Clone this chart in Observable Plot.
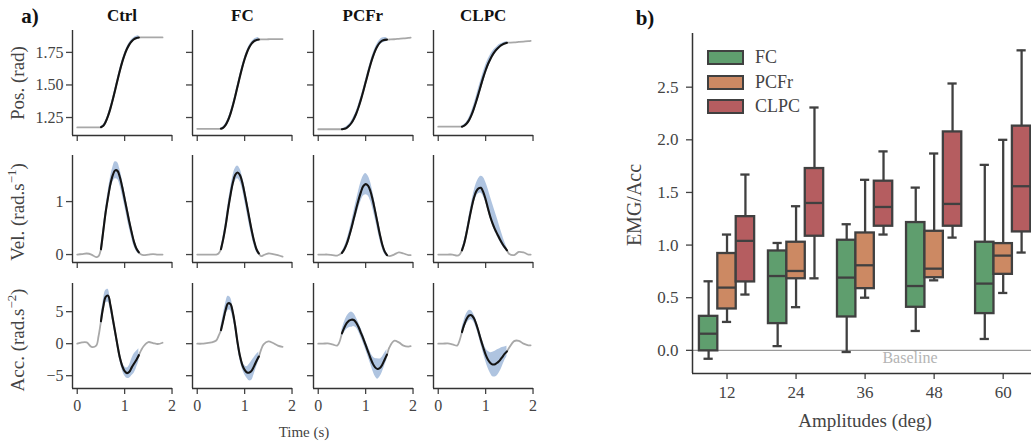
<!DOCTYPE html>
<html><head><meta charset="utf-8">
<script src="https://cdn.jsdelivr.net/npm/d3@7"></script>
<script src="https://cdn.jsdelivr.net/npm/@observablehq/plot@0.6"></script>
<style>
body{margin:0;background:#fff;width:1031px;height:442px;overflow:hidden;font-family:"Liberation Serif",serif;color:#444;}
#root{position:relative;width:1031px;height:442px;overflow:hidden;}
.lbl{position:absolute;white-space:nowrap;transform:translate(-50%,-50%);line-height:1;}
.rot{transform:translate(-50%,-50%) rotate(-90deg);}
.bold{font-weight:bold;color:#111;}
sup{font-size:0.68em;vertical-align:0.55em;line-height:0;}
.lg{position:absolute;width:33px;height:11px;border:2px solid #404040;}
</style></head><body><div id="root"></div><script>
// ---------------- Panel a data ----------------
const conditions = ["Ctrl", "FC", "PCFr", "CLPC"];
const ctrlTime = [0,0.1,0.2,0.3,0.4,0.45,0.5,0.55,0.6,0.65,0.7,0.75,0.8,0.85,0.9,0.95,1,1.05,1.1,1.15,1.2,1.25,1.3,1.35,1.4,1.5,1.6,1.7,1.8];
const fcTime   = [0,0.1,0.2,0.3,0.4,0.45,0.5,0.55,0.6,0.65,0.7,0.75,0.8,0.85,0.9,0.95,1,1.05,1.1,1.15,1.2,1.25,1.3,1.35,1.4,1.5,1.6,1.7,1.8];
const pcfrTime = [0,0.1,0.2,0.3,0.4,0.45,0.5,0.55,0.6,0.65,0.7,0.75,0.8,0.85,0.9,0.95,1,1.05,1.1,1.15,1.2,1.25,1.3,1.35,1.4,1.45,1.5,1.6,1.7,1.8,1.9,1.95];
const clpcTime = [0,0.1,0.2,0.3,0.4,0.45,0.5,0.55,0.6,0.65,0.7,0.75,0.8,0.85,0.9,0.95,1,1.05,1.1,1.15,1.2,1.25,1.3,1.35,1.4,1.45,1.5,1.6,1.7,1.8,1.9,1.95];
const ctrlMove = [0.5, 1.3];
const fcMove = [0.5, 1.3];
const pcfrMove = [0.5, 1.45];
const clpcMove = [0.5, 1.45];

const ctrlPos = [1.174,1.174,1.174,1.174,1.174,1.174,1.176,1.187,1.217,1.262,1.320,1.388,1.462,1.538,1.611,1.677,1.733,1.778,1.812,1.836,1.852,1.860,1.864,1.865,1.865,1.865,1.865,1.865,1.865];
const ctrlVel = [0,0.01,0.02,0,-0.05,-0.03,0.1,0.45,0.8,1.08,1.33,1.5,1.59,1.58,1.46,1.27,1.05,0.83,0.61,0.41,0.23,0.11,0.04,0,-0.01,0,0.01,0,0];
const ctrlAcc = [0,0.2,0.2,-0.5,-0.3,1.2,3.5,5.8,7.3,7.5,6.0,3.9,1.8,-0.3,-2.2,-3.5,-4.3,-4.6,-4.4,-3.7,-3.1,-2.5,-1.8,-1.0,-0.4,0.25,0.1,-0.05,0.15];
const ctrlPosSd = [0.005,0.007,0.01,0.012,0.014,0.015,0.015,0.015,0.015,0.014,0.013,0.012,0.012,0.012,0.013,0.014,0.015];
const ctrlVelSd = [0.03,0.06,0.08,0.1,0.12,0.14,0.16,0.16,0.15,0.14,0.13,0.13,0.12,0.1,0.08,0.05,0.03];
const ctrlAccSd = [0.8,0.9,1.0,1.0,0.8,0.6,0.5,0.5,0.5,0.6,0.7,0.8,1.0,1.3,1.5,1.3,1.0];

const fcPos = [1.163,1.163,1.163,1.163,1.163,1.163,1.164,1.173,1.194,1.229,1.278,1.340,1.411,1.488,1.564,1.636,1.699,1.751,1.791,1.819,1.837,1.846,1.849,1.85,1.85,1.851,1.852,1.852,1.852];
const fcVel = [0,0,0,0,0,0.02,0.1,0.3,0.55,0.85,1.12,1.35,1.5,1.55,1.5,1.36,1.15,0.92,0.68,0.45,0.25,0.1,0.02,-0.03,-0.01,0.02,0.01,-0.01,-0.04];
const fcAcc = [0,0,0.1,0.2,0.5,1.2,2.1,3.7,5.3,6.3,6.2,4.9,2.8,0.2,-1.9,-3.3,-4.1,-4.5,-4.5,-4.2,-3.5,-2.7,-2.0,-0.9,-0.1,0.35,0.1,-0.3,-0.5];
const fcPosSd = [0.005,0.007,0.01,0.012,0.014,0.015,0.015,0.015,0.015,0.015,0.014,0.013,0.013,0.013,0.014,0.015,0.015];
const fcVelSd = [0.03,0.06,0.08,0.1,0.11,0.12,0.12,0.12,0.12,0.12,0.13,0.13,0.12,0.1,0.08,0.05,0.03];
const fcAccSd = [0.5,0.8,1.0,1.1,1.0,0.8,0.6,0.6,0.6,0.6,0.7,0.9,1.3,1.5,1.3,1.0,0.7];

const pcfrPos = [1.16,1.16,1.16,1.16,1.16,1.16,1.16,1.163,1.171,1.186,1.208,1.239,1.279,1.329,1.387,1.451,1.52,1.589,1.655,1.713,1.762,1.799,1.825,1.84,1.846,1.848,1.849,1.851,1.854,1.857,1.861,1.863];
const pcfrVel = [0,0,0,-0.01,-0.02,0,0.03,0.1,0.2,0.34,0.5,0.68,0.86,1.03,1.18,1.29,1.33,1.30,1.2,1.03,0.82,0.6,0.38,0.19,0.06,-0.01,-0.03,0,0.04,0.02,-0.01,-0.01];
const pcfrAcc = [0,0,0.05,-0.1,-0.3,0.3,1.6,2.5,3.2,3.6,3.75,3.7,3.3,2.6,1.7,0.8,-0.2,-1.2,-2.2,-3.1,-3.7,-3.95,-3.8,-3.3,-2.5,-1.7,-0.6,0.45,0.2,-0.3,-0.45,-0.4];
const pcfrPosSd = [0.005,0.007,0.01,0.012,0.014,0.016,0.018,0.02,0.02,0.02,0.02,0.02,0.02,0.02,0.02,0.02,0.02,0.02,0.018,0.015];
const pcfrVelSd = [0.02,0.04,0.06,0.08,0.1,0.12,0.14,0.16,0.18,0.19,0.2,0.19,0.18,0.16,0.14,0.12,0.1,0.07,0.05,0.03];
const pcfrAccSd = [0.5,0.8,1.0,1.1,1.2,1.0,0.8,0.7,0.7,0.7,0.7,0.8,0.9,1.1,1.4,1.6,1.4,1.2,1.0,0.8];

const clpcPos = [1.18,1.18,1.18,1.18,1.18,1.18,1.18,1.188,1.204,1.230,1.268,1.317,1.373,1.434,1.497,1.558,1.613,1.661,1.700,1.733,1.759,1.780,1.797,1.809,1.818,1.824,1.825,1.827,1.830,1.833,1.836,1.838];
const clpcVel = [0,0,0,0,-0.02,0,0.08,0.22,0.42,0.65,0.87,1.06,1.19,1.25,1.26,1.18,1.04,0.87,0.71,0.58,0.47,0.38,0.29,0.21,0.14,0.08,0.01,-0.01,0.05,0.04,0,0];
const clpcAcc = [0,0,0.05,-0.1,-0.3,0.5,1.8,3.0,3.9,4.4,4.45,4.0,3.1,1.9,0.6,-0.6,-1.7,-2.5,-3.0,-3.25,-3.2,-2.95,-2.6,-2.1,-1.6,-1.2,-0.6,0.4,0.45,0,-0.25,-0.25];
const clpcPosSd = [0.005,0.008,0.012,0.018,0.025,0.03,0.035,0.04,0.04,0.04,0.038,0.035,0.03,0.025,0.02,0.018,0.015,0.012,0.01,0.01];
const clpcVelSdUp = [0.03,0.04,0.05,0.07,0.09,0.11,0.14,0.18,0.22,0.28,0.33,0.37,0.38,0.37,0.34,0.29,0.23,0.17,0.1,0.05];
const clpcVelSdLo = [0.03,0.04,0.05,0.07,0.08,0.1,0.1,0.1,0.1,0.08,0.05,0.04,0.04,0.04,0.04,0.04,0.04,0.04,0.03,0.03];
const clpcAccSd = [0.5,0.7,0.8,0.8,0.7,0.6,0.6,0.6,0.7,0.8,1.0,1.3,1.6,1.9,2.0,2.0,1.8,1.5,1.1,0.8];

const rowLabels = ["Pos. (rad)", "Vel. (rad.s<sup>−1</sup>)", "Acc. (rad.s<sup>−2</sup>)"];
const posTicks = [1.25, 1.5, 1.75];
const velTicks = [0, 1];
const accTicks = [-5, 0, 5];
const timeTicks = [0, 1, 2];

// ---------------- Panel b data ----------------
const amplitudes = [12, 24, 36, 48, 60];
const hues = ["FC", "PCFr", "CLPC"];
const hueColors = ["#5f9e6e", "#cc8963", "#b55d60"];
const fcLo  = [-0.08, 0.04, -0.016, 0.184, 0.108];
const fcQ1  = [-0.005, 0.254, 0.317, 0.409, 0.349];
const fcMed = [0.158, 0.706, 0.691, 0.611, 0.634];
const fcQ3  = [0.323, 0.944, 1.046, 1.214, 1.027];
const fcHi  = [0.656, 1.02, 1.198, 1.546, 1.762];
const pcfrLo  = [0.27, 0.41, 0.50, 0.665, 0.545];
const pcfrQ1  = [0.393, 0.68, 0.586, 0.69, 0.722];
const pcfrMed = [0.596, 0.754, 0.808, 0.776, 0.90];
const pcfrQ3  = [0.92, 1.027, 1.115, 1.131, 1.014];
const pcfrHi  = [1.10, 1.369, 1.62, 1.87, 2.0];
const clpcLo  = [0.53, 0.684, 1.10, 1.071, 0.929];
const clpcQ1  = [0.65, 1.084, 1.179, 1.179, 1.125];
const clpcMed = [1.04, 1.40, 1.362, 1.391, 1.559];
const clpcQ3  = [1.27, 1.727, 1.607, 2.075, 2.13];
const clpcHi  = [1.67, 2.307, 1.89, 2.535, 2.85];
const emgTicks = [0, 0.5, 1, 1.5, 2, 2.5];
const baselineNote = [{x: 2.65, y: -0.075, text: "Baseline"}];

// ---------------- Build ----------------
const root = document.getElementById("root");
const minus = d => (d < 0 ? "−" + Math.abs(d) : String(d));
const series = {
  Ctrl: {t: ctrlTime, move: ctrlMove, pos: [ctrlPos, ctrlPosSd], vel: [ctrlVel, ctrlVelSd], acc: [ctrlAcc, ctrlAccSd]},
  FC:   {t: fcTime, move: fcMove, pos: [fcPos, fcPosSd], vel: [fcVel, fcVelSd], acc: [fcAcc, fcAccSd]},
  PCFr: {t: pcfrTime, move: pcfrMove, pos: [pcfrPos, pcfrPosSd], vel: [pcfrVel, pcfrVelSd], acc: [pcfrAcc, pcfrAccSd]},
  CLPC: {t: clpcTime, move: clpcMove, pos: [clpcPos, clpcPosSd], vel: [clpcVel, clpcVelSdUp, clpcVelSdLo], acc: [clpcAcc, clpcAccSd]}
};
const rows = [
  {key: "pos", domain: [1.112, 1.918], ticks: posTicks, fmt: d => d.toFixed(2), top: 30, h: 105},
  {key: "vel", domain: [-0.15, 1.87], ticks: velTicks, fmt: minus, top: 155, h: 107},
  {key: "acc", domain: [-7.0, 9.4], ticks: accTicks, fmt: minus, top: 283, h: 105}
];
const xDomain = [-0.1, 2.01];
const ML = 40, MR = 4, MT = 4, MB = 30;
const colLeft = c => 72 + c * 120.4;

function place(el, left, top) {
  el.style.position = "absolute";
  el.style.left = left + "px";
  el.style.top = top + "px";
  root.appendChild(el);
}

rows.forEach((row, r) => {
  conditions.forEach((cond, c) => {
    const s = series[cond];
    const [vals, up, lo] = s[row.key];
    const all = s.t.map((t, i) => ({t, v: vals[i]}));
    const inMove = all.filter(d => d.t >= s.move[0] - 1e-9 && d.t <= s.move[1] + 1e-9);
    const band = inMove.map((d, i) => ({t: d.t, lo: d.v - (lo || up)[i], hi: d.v + up[i]}));
    const svg = Plot.plot({
      width: 100 + ML + MR, height: row.h + MT + MB,
      marginLeft: ML, marginRight: MR, marginTop: MT, marginBottom: MB,
      x: {domain: xDomain, label: null},
      y: {domain: row.domain, label: null},
      style: {fontFamily: "Liberation Serif", fontSize: "16px", color: "#444", background: "transparent", overflow: "visible"},
      marks: [
        Plot.line(all, {x: "t", y: "v", stroke: "#a8a8a8", strokeWidth: 1.8, curve: "catmull-rom"}),
        Plot.areaY(band, {x: "t", y1: "lo", y2: "hi", fill: "#afc4e0", curve: "catmull-rom"}),
        Plot.line(inMove, {x: "t", y: "v", stroke: "#141414", strokeWidth: 2.1, curve: "catmull-rom"}),
        Plot.axisY({ticks: row.ticks, tickSize: 6, tickPadding: 3, strokeWidth: 1.3, label: null,
          tickFormat: c === 0 ? row.fmt : () => ""}),
        Plot.axisX({ticks: timeTicks, tickSize: 6, tickPadding: 5, strokeWidth: 1.3, label: null,
          tickFormat: r === 2 ? d => String(d) : () => ""}),
        Plot.ruleX([xDomain[0]], {stroke: "#333", strokeWidth: 1.4}),
        Plot.ruleY([row.domain[0]], {stroke: "#333", strokeWidth: 1.4})
      ]
    });
    place(svg, colLeft(c) - ML, row.top - MT);
  });
});

function addLabel(html, x, y, cls, size) {
  const d = document.createElement("div");
  d.className = "lbl " + (cls || "");
  d.innerHTML = html;
  d.style.left = x + "px";
  d.style.top = y + "px";
  d.style.fontSize = size + "px";
  root.appendChild(d);
  return d;
}
addLabel("a)", 30, 16, "bold", 21);
conditions.forEach((cond, c) => addLabel(cond, colLeft(c) + 50, 15, "bold", 17));
[83, 212, 340].forEach((y, r) => addLabel(rowLabels[r], 17, y, "rot", 19));
addLabel("Time (s)", 304, 432, "", 15);

// ---------------- Panel b ----------------
const stats = {
  FC: [fcLo, fcQ1, fcMed, fcQ3, fcHi],
  PCFr: [pcfrLo, pcfrQ1, pcfrMed, pcfrQ3, pcfrHi],
  CLPC: [clpcLo, clpcQ1, clpcMed, clpcQ3, clpcHi]
};
const hueW = 0.8 / hues.length;
const boxes = [];
hues.forEach((h, j) => amplitudes.forEach((a, i) => {
  const [lo, q1, med, q3, hi] = stats[h].map(arr => arr[i]);
  boxes.push({hue: h, c: i + (j - 1) * hueW, lo, q1, med, q3, hi});
}));
const bx = [-0.5, 4.41], by = [-0.22, 3.01];
const edge = "#404040", ew = 2.3;
const half = hueW / 2, cap = hueW / 4;
const pb = Plot.plot({
  width: 411, height: 442, marginLeft: 72, marginRight: 0, marginTop: 33, marginBottom: 69,
  x: {domain: bx, label: null},
  y: {domain: by, label: null},
  color: {domain: hues, range: hueColors},
  style: {fontFamily: "Liberation Serif", fontSize: "17px", color: "#444", background: "transparent", overflow: "visible"},
  marks: [
    Plot.ruleY([0], {stroke: "#9a9a9a", strokeWidth: 1.3}),
    Plot.text(baselineNote, {x: "x", y: "y", text: "text", fill: "#b4b4b4", fontSize: 16}),
    Plot.ruleX(boxes, {x: "c", y1: "q3", y2: "hi", stroke: edge, strokeWidth: ew}),
    Plot.ruleX(boxes, {x: "c", y1: "lo", y2: "q1", stroke: edge, strokeWidth: ew}),
    Plot.ruleY(boxes, {y: "hi", x1: d => d.c - cap, x2: d => d.c + cap, stroke: edge, strokeWidth: ew}),
    Plot.ruleY(boxes, {y: "lo", x1: d => d.c - cap, x2: d => d.c + cap, stroke: edge, strokeWidth: ew}),
    Plot.rect(boxes, {x1: d => d.c - half, x2: d => d.c + half, y1: "q1", y2: "q3", fill: "hue", stroke: edge, strokeWidth: ew}),
    Plot.ruleY(boxes, {y: "med", x1: d => d.c - half, x2: d => d.c + half, stroke: edge, strokeWidth: ew}),
    Plot.axisY({ticks: emgTicks, tickSize: 6, tickPadding: 8, strokeWidth: 1.3, label: null, tickFormat: d => d.toFixed(1)}),
    Plot.axisX({ticks: amplitudes.map((a, i) => i), tickSize: 6, tickPadding: 6, strokeWidth: 1.3, label: null, tickFormat: i => String(amplitudes[i])}),
    Plot.ruleX([bx[0]], {stroke: "#333", strokeWidth: 1.5}),
    Plot.ruleY([by[0]], {stroke: "#333", strokeWidth: 1.5})
  ]
});
place(pb, 620, 0);
addLabel("b)", 645, 18, "bold", 21);
addLabel("EMG/Acc", 634, 205, "rot", 20);
addLabel("Amplitudes (deg)", 865, 420, "", 19);
// legend
hues.forEach((h, j) => {
  const sw = document.createElement("div");
  sw.className = "lg";
  sw.style.left = "707px";
  sw.style.top = (50 + j * 24.5) + "px";
  sw.style.background = hueColors[j];
  root.appendChild(sw);
  addLabel(h, 755, 57 + j * 24.5, "", 18).style.transform = "translate(0,-50%)";
});
</script></body></html>
